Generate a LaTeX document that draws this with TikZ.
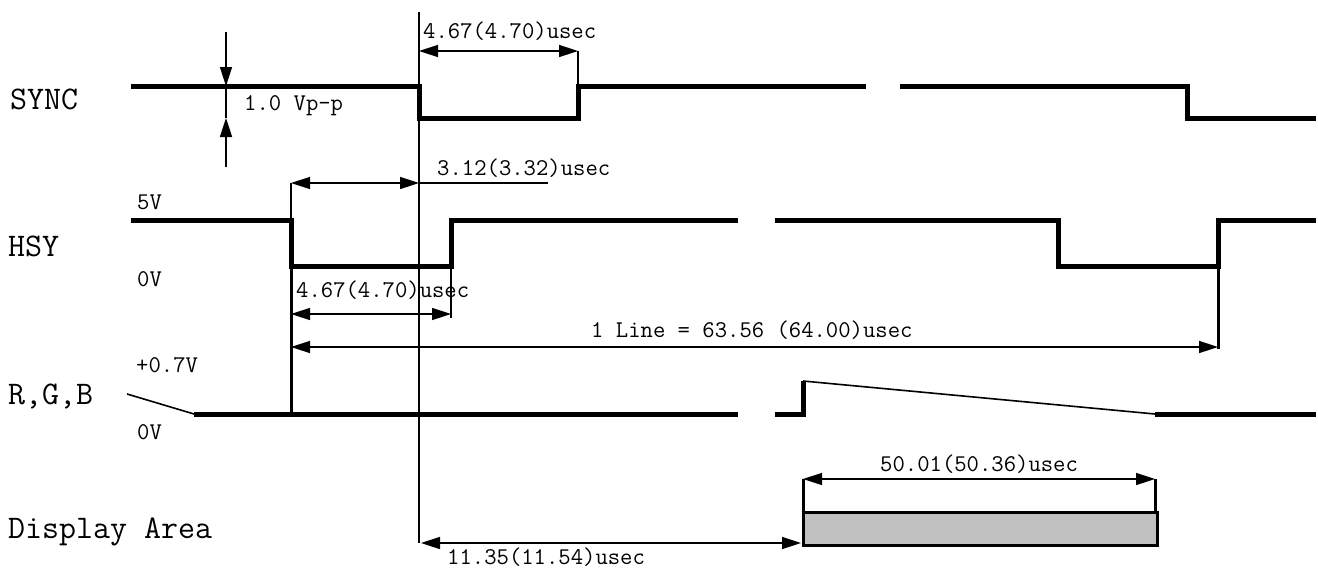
\documentclass[tikz,border=0pt]{standalone}
\usepackage{fontspec}
\usetikzlibrary{arrows.meta}
\definecolor{areagray}{RGB}{192,192,192}
\begin{document}
\begin{tikzpicture}[x=1pt,y=-1pt]
%\draw[help lines,step=50] (0,0) grid (1318,570);
\tikzstyle{sig}=[line width=5pt,line join=miter]
\tikzstyle{guide}=[line width=1.6pt]
\tikzstyle{edge}=[line width=3pt]
\tikzstyle{dim}=[line width=1.5pt,{Triangle[length=19pt,width=12pt]}-{Triangle[length=19pt,width=12pt]}]
\tikzstyle{tip}=[line width=1.6pt,-{Triangle[length=19pt,width=12pt]}]
\tikzstyle{lbl}=[anchor=base west,inner sep=0pt,font=\ttfamily\fontsize{33}{36}\selectfont]
\tikzstyle{val}=[anchor=base west,inner sep=0pt,font=\ttfamily\fontsize{24}{26}\selectfont]
\useasboundingbox (0,0) rectangle (1318,570);

\node[lbl] (sync) at (10,109.5) {SYNC};
\node[lbl] (hsy) at (8,256) {HSY};
\node[lbl] (rgb) at (8,404) {R,G,B};
\node[lbl] (area) at (8,538) {Display Area};

\node[val] (hi5) at (137,209) {5V};
\node[val] (lo0) at (137,286) {0V};
\node[val] (hi07) at (136,372) {+0.7V};
\node[val] (rlo0) at (137,439) {0V};

% waveforms
\draw[sig] (131,86) -- (419,86) -- (419,118) -- (578,118) -- (578,86) -- (866,86);
\draw[sig] (900,86) -- (1187,86) -- (1187,118) -- (1316,118);
\draw[sig] (131,220) -- (291,220) -- (291,266) -- (451,266) -- (451,220) -- (738,220);
\draw[sig] (775,220) -- (1058,220) -- (1058,266) -- (1218,266) -- (1218,220) -- (1316,220);
\draw[guide] (127,394) -- (194,414);
\draw[sig] (194,414) -- (738,414);
\draw[sig] (775,414) -- (803,414) -- (803,381);
\draw[guide] (803,381) -- (1155,414);
\draw[sig] (1155,414) -- (1316,414);
\draw[edge,fill=areagray] (803,512) rectangle (1157,545);

% reference line and extension lines
\coordinate (ref) at (419,12);
\coordinate (refend) at (419,543);
\draw[guide] (ref) -- (refend);
\draw[guide] (578,51) -- (578,86);
\draw[guide] (291,183) -- (291,220);
\draw[edge] (291,266) -- (291,414);
\draw[guide] (451,266) -- (451,318);
\draw[edge] (1218,266) -- (1218,349);
\draw[edge] (803,479) -- (803,512);
\draw[edge] (1155,479) -- (1155,512);

% amplitude
\coordinate (ampa) at (226,32);
\coordinate (ampb) at (226,86);
\coordinate (ampc) at (226,118);
\coordinate (ampd) at (226,167);
\draw[tip] (ampa) -- (ampb);
\draw[guide] (ampb) -- (ampc);
\draw[tip] (ampd) -- (ampc);
\node[val] (vpp) at (244,110) {1.0 Vp-p};

% time intervals
\coordinate (sa) at (419,51);
\coordinate (sb) at (578,51);
\draw[dim] (sa) -- (sb);
\node[val] (syncw) at (423,38) {4.67(4.70)usec};

\coordinate (fa) at (291,183);
\coordinate (fb) at (419,183);
\coordinate (fc) at (548,183);
\draw[dim] (fa) -- (fb);
\draw[guide] (fb) -- (fc);
\node[val] (front) at (437,175) {3.12(3.32)usec};

\coordinate (ha) at (291,314);
\coordinate (hb) at (451,314);
\draw[dim] (ha) -- (hb);
\node[val] (hsyw) at (296,297) {4.67(4.70)usec};

\coordinate (la) at (291,347);
\coordinate (lb) at (1218,347);
\draw[dim] (la) -- (lb);
\node[val] (line) at (591,337) {1 Line = 63.56 (64.00)usec};

\coordinate (da) at (803,479);
\coordinate (db) at (1155,479);
\draw[dim] (da) -- (db);
\node[val] (dispw) at (880,471) {50.01(50.36)usec};

\coordinate (ba) at (421,543);
\coordinate (bb) at (801,543);
\draw[dim] (ba) -- (bb);
\node[val] (back) at (447,564) {11.35(11.54)usec};
\end{tikzpicture}
\end{document}
